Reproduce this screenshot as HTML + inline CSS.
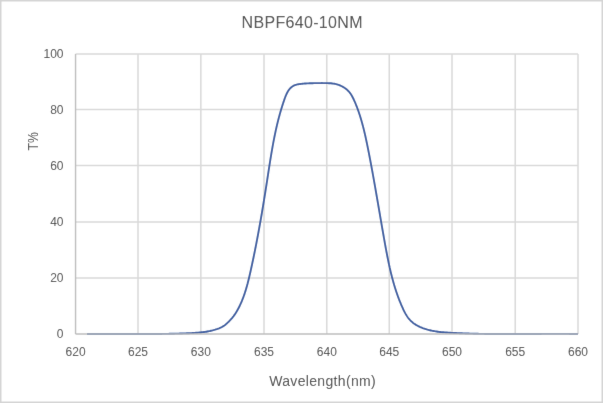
<!DOCTYPE html>
<html><head><meta charset="utf-8"><style>
html,body{margin:0;padding:0;background:#fff;}
body{width:603px;height:403px;overflow:hidden;}
svg{display:block;}
text{font-family:"Liberation Sans",sans-serif;fill:#484848;}
</style></head><body>
<svg width="603" height="403" viewBox="0 0 603 403">
<defs><filter id="bl" filterUnits="userSpaceOnUse" x="0" y="0" width="603" height="403"><feConvolveMatrix order="3" kernelMatrix="0.00524 0.06192 0.00524 0.06192 0.73137 0.06192 0.00524 0.06192 0.00524" edgeMode="duplicate" preserveAlpha="false"/></filter></defs>
<g filter="url(#bl)">
<rect x="0.75" y="0.75" width="601.5" height="401.5" fill="#fff" stroke="#d4d4d4" stroke-width="1.5"/>
<g stroke="#d9d9d9" stroke-width="1.5"><line x1="75.55" y1="54.00" x2="578.00" y2="54.00"/><line x1="75.55" y1="109.45" x2="578.00" y2="109.45"/><line x1="75.55" y1="165.50" x2="578.00" y2="165.50"/><line x1="75.55" y1="221.90" x2="578.00" y2="221.90"/><line x1="75.55" y1="278.10" x2="578.00" y2="278.10"/><line x1="138.00" y1="54.00" x2="138.00" y2="334.00"/><line x1="200.85" y1="54.00" x2="200.85" y2="334.00"/><line x1="264.00" y1="54.00" x2="264.00" y2="334.00"/><line x1="326.80" y1="54.00" x2="326.80" y2="334.00"/><line x1="389.25" y1="54.00" x2="389.25" y2="334.00"/><line x1="452.00" y1="54.00" x2="452.00" y2="334.00"/><line x1="515.20" y1="54.00" x2="515.20" y2="334.00"/><line x1="578.00" y1="54.00" x2="578.00" y2="334.00"/></g>
<path d="M86.98,334.04 L88.13,334.03 L89.28,334.02 L90.43,334.00 L91.58,333.99 L92.73,333.98 L93.88,333.97 L95.03,333.97 L96.18,333.96 L97.33,333.95 L98.48,333.95 L99.63,333.94 L100.78,333.94 L101.93,333.94 L103.08,333.93 L104.22,333.93 L105.37,333.93 L106.52,333.93 L107.67,333.93 L108.81,333.93 L109.96,333.93 L111.11,333.94 L112.25,333.94 L113.40,333.94 L114.55,333.94 L115.69,333.95 L116.84,333.95 L117.98,333.95 L119.13,333.96 L120.28,333.96 L121.42,333.97 L122.57,333.97 L123.71,333.98 L124.86,333.98 L126.00,333.98 L127.15,333.99 L128.29,333.99 L129.44,334.00 L130.58,334.00 L131.73,334.01 L132.87,334.01 L134.01,334.01 L135.16,334.02 L136.30,334.02 L137.45,334.02 L138.59,334.02 L139.74,334.03 L140.88,334.03 L142.03,334.03 L143.17,334.03 L144.31,334.03 L145.46,334.03 L146.60,334.03 L147.75,334.02 L148.89,334.02 L150.04,334.02 L151.18,334.01 L152.33,334.01 L153.47,334.00 L154.62,333.99 L155.76,333.99 L156.91,333.98 L158.05,333.97 L159.20,333.96 L160.34,333.94 L161.49,333.93 L162.63,333.92 L163.78,333.90 L164.92,333.88 L166.07,333.87 L167.22,333.85 L168.36,333.83 L169.51,333.80 L170.66,333.78 L171.80,333.76 L172.95,333.73 L174.10,333.70 L175.24,333.67 L176.39,333.64 L177.54,333.61 L178.69,333.58 L179.83,333.54 L180.98,333.50 L182.13,333.47 L183.28,333.42 L184.43,333.38 L185.58,333.34 L186.73,333.29 L187.88,333.24 L189.03,333.19 L190.18,333.14 L191.33,333.08 L192.48,333.02 L193.63,332.96 L194.78,332.89 L195.92,332.82 L197.07,332.73 L198.22,332.64 L199.36,332.54 L200.50,332.43 L201.64,332.31 L202.78,332.18 L203.92,332.03 L205.05,331.87 L206.18,331.70 L207.31,331.51 L208.43,331.31 L209.27,331.14 L210.11,330.97 L210.94,330.78 L211.78,330.59 L212.61,330.38 L213.44,330.17 L214.27,329.94 L215.09,329.70 L215.91,329.44 L216.73,329.18 L217.54,328.89 L218.34,328.59 L219.14,328.28 L219.92,327.94 L220.70,327.58 L221.47,327.20 L222.22,326.80 L222.96,326.37 L223.68,325.92 L224.38,325.44 L225.07,324.93 L225.75,324.40 L226.40,323.84 L227.05,323.27 L227.68,322.68 L228.30,322.07 L228.92,321.46 L229.52,320.83 L230.12,320.20 L230.71,319.57 L231.28,318.92 L231.85,318.27 L232.40,317.61 L232.94,316.94 L233.47,316.26 L233.98,315.57 L234.48,314.87 L234.97,314.16 L235.45,313.45 L235.91,312.73 L236.37,312.00 L236.81,311.27 L237.24,310.53 L237.66,309.78 L238.08,309.03 L238.48,308.28 L238.87,307.52 L239.26,306.75 L239.63,305.98 L240.00,305.21 L240.36,304.43 L240.72,303.65 L241.06,302.87 L241.40,302.09 L241.74,301.30 L242.06,300.51 L242.38,299.72 L242.70,298.92 L243.00,298.12 L243.30,297.32 L243.60,296.52 L243.89,295.71 L244.17,294.91 L244.45,294.10 L244.72,293.29 L244.99,292.47 L245.25,291.66 L245.51,290.84 L245.76,290.02 L246.01,289.20 L246.25,288.38 L246.49,287.55 L246.73,286.73 L246.96,285.90 L247.19,285.07 L247.41,284.24 L247.64,283.41 L247.85,282.58 L248.07,281.74 L248.28,280.91 L248.49,280.07 L248.69,279.24 L248.90,278.40 L249.10,277.56 L249.30,276.72 L249.50,275.88 L249.69,275.04 L249.88,274.20 L250.08,273.36 L250.27,272.52 L250.46,271.67 L250.64,270.83 L250.83,269.99 L251.02,269.15 L251.20,268.30 L251.39,267.46 L251.57,266.62 L251.76,265.78 L251.94,264.93 L252.12,264.09 L252.30,263.25 L252.48,262.40 L252.66,261.56 L252.84,260.71 L253.02,259.87 L253.19,259.03 L253.37,258.18 L253.55,257.34 L253.72,256.49 L253.90,255.65 L254.07,254.80 L254.24,253.96 L254.41,253.12 L254.59,252.27 L254.76,251.43 L254.93,250.58 L255.10,249.74 L255.26,248.89 L255.43,248.05 L255.60,247.20 L255.77,246.35 L255.93,245.51 L256.10,244.66 L256.26,243.82 L256.43,242.97 L256.59,242.13 L256.75,241.28 L256.92,240.43 L257.08,239.59 L257.24,238.74 L257.40,237.89 L257.56,237.05 L257.72,236.20 L257.88,235.36 L258.03,234.51 L258.19,233.66 L258.35,232.82 L258.50,231.97 L258.66,231.12 L258.82,230.27 L258.97,229.43 L259.12,228.58 L259.28,227.73 L259.43,226.89 L259.63,225.76 L259.84,224.63 L260.04,223.50 L260.24,222.37 L260.44,221.24 L260.64,220.11 L260.83,218.98 L261.03,217.85 L261.23,216.72 L261.42,215.59 L261.62,214.46 L261.81,213.33 L262.00,212.20 L262.19,211.06 L262.38,209.93 L262.57,208.80 L262.76,207.67 L262.95,206.54 L263.14,205.41 L263.33,204.28 L263.52,203.15 L263.70,202.02 L263.89,200.89 L264.07,199.76 L264.25,198.63 L264.44,197.49 L264.62,196.36 L264.80,195.23 L264.98,194.10 L265.17,192.97 L265.35,191.84 L265.53,190.71 L265.70,189.58 L265.88,188.45 L266.06,187.31 L266.24,186.18 L266.42,185.05 L266.59,183.92 L266.77,182.79 L266.94,181.66 L267.12,180.53 L267.29,179.40 L267.47,178.27 L267.64,177.14 L267.82,176.01 L267.99,174.88 L268.16,173.74 L268.34,172.61 L268.51,171.48 L268.69,170.35 L268.86,169.22 L269.04,168.09 L269.21,166.96 L269.39,165.84 L269.56,164.71 L269.74,163.58 L269.92,162.45 L270.10,161.32 L270.28,160.19 L270.46,159.06 L270.65,157.93 L270.83,156.81 L271.02,155.68 L271.20,154.55 L271.39,153.43 L271.58,152.30 L271.78,151.17 L271.97,150.05 L272.17,148.92 L272.37,147.80 L272.57,146.67 L272.77,145.55 L272.98,144.43 L273.18,143.30 L273.39,142.18 L273.55,141.34 L273.72,140.50 L273.88,139.66 L274.04,138.81 L274.21,137.97 L274.38,137.13 L274.55,136.29 L274.72,135.45 L274.89,134.61 L275.07,133.77 L275.24,132.94 L275.42,132.10 L275.60,131.26 L275.78,130.42 L275.97,129.58 L276.16,128.75 L276.35,127.91 L276.54,127.07 L276.73,126.24 L276.93,125.40 L277.12,124.56 L277.32,123.73 L277.53,122.89 L277.73,122.06 L277.94,121.23 L278.15,120.39 L278.36,119.56 L278.58,118.73 L278.79,117.89 L279.01,117.06 L279.24,116.23 L279.46,115.40 L279.69,114.57 L279.92,113.74 L280.16,112.91 L280.39,112.08 L280.63,111.25 L280.88,110.42 L281.12,109.59 L281.37,108.76 L281.62,107.94 L281.88,107.11 L282.13,106.28 L282.40,105.46 L282.66,104.63 L282.93,103.81 L283.20,102.98 L283.47,102.16 L283.75,101.34 L284.03,100.51 L284.32,99.69 L284.61,98.87 L284.90,98.05 L285.20,97.24 L285.52,96.43 L285.84,95.62 L286.18,94.83 L286.53,94.04 L286.91,93.27 L287.30,92.51 L287.71,91.76 L288.15,91.03 L288.61,90.32 L289.10,89.63 L289.62,88.97 L290.17,88.34 L290.75,87.74 L291.37,87.19 L292.02,86.68 L292.70,86.22 L293.43,85.81 L294.19,85.45 L294.97,85.14 L295.79,84.87 L296.63,84.63 L297.48,84.43 L298.34,84.26 L299.22,84.11 L300.10,83.99 L301.27,83.84 L302.43,83.71 L303.59,83.60 L304.75,83.52 L305.91,83.44 L307.07,83.38 L308.22,83.33 L309.37,83.29 L310.52,83.26 L311.66,83.23 L312.81,83.20 L313.95,83.17 L315.09,83.15 L316.24,83.13 L317.38,83.11 L318.52,83.09 L319.66,83.08 L320.79,83.08 L321.93,83.07 L323.07,83.08 L324.21,83.08 L325.34,83.10 L326.48,83.12 L327.62,83.15 L328.76,83.19 L329.89,83.24 L331.03,83.32 L332.16,83.43 L333.29,83.58 L334.41,83.76 L335.25,83.93 L336.09,84.12 L336.92,84.35 L337.75,84.60 L338.57,84.87 L339.39,85.18 L340.19,85.50 L340.98,85.86 L341.76,86.24 L342.53,86.64 L343.28,87.07 L344.02,87.53 L344.74,88.00 L345.45,88.50 L346.13,89.03 L346.79,89.58 L347.44,90.15 L348.05,90.74 L348.65,91.35 L349.22,91.99 L349.76,92.64 L350.27,93.32 L350.76,94.01 L351.22,94.73 L351.67,95.46 L352.09,96.20 L352.49,96.95 L352.89,97.72 L353.26,98.49 L353.63,99.27 L353.99,100.05 L354.34,100.84 L354.69,101.63 L355.03,102.42 L355.37,103.21 L355.70,104.01 L356.03,104.80 L356.34,105.60 L356.66,106.40 L356.97,107.21 L357.27,108.01 L357.57,108.82 L357.87,109.63 L358.16,110.44 L358.44,111.25 L358.72,112.06 L359.00,112.88 L359.27,113.69 L359.54,114.51 L359.81,115.32 L360.07,116.14 L360.33,116.96 L360.58,117.78 L360.83,118.61 L361.07,119.43 L361.32,120.25 L361.55,121.08 L361.79,121.90 L362.02,122.73 L362.25,123.56 L362.47,124.39 L362.70,125.22 L362.92,126.05 L363.13,126.88 L363.35,127.71 L363.56,128.55 L363.77,129.38 L363.97,130.21 L364.17,131.05 L364.37,131.88 L364.57,132.72 L364.77,133.56 L364.96,134.40 L365.15,135.23 L365.34,136.07 L365.53,136.91 L365.72,137.75 L365.90,138.59 L366.08,139.43 L366.26,140.27 L366.44,141.11 L366.62,141.96 L366.80,142.80 L366.97,143.64 L367.15,144.48 L367.32,145.33 L367.49,146.17 L367.66,147.01 L367.83,147.86 L368.00,148.70 L368.17,149.54 L368.33,150.39 L368.50,151.23 L368.67,152.07 L368.83,152.92 L369.00,153.76 L369.16,154.60 L369.33,155.45 L369.49,156.29 L369.65,157.14 L369.81,157.98 L369.98,158.82 L370.14,159.67 L370.30,160.51 L370.46,161.36 L370.62,162.20 L370.78,163.05 L370.94,163.89 L371.09,164.73 L371.25,165.58 L371.41,166.42 L371.57,167.27 L371.72,168.11 L371.88,168.96 L372.03,169.80 L372.24,170.93 L372.45,172.05 L372.65,173.18 L372.86,174.31 L373.06,175.43 L373.26,176.56 L373.47,177.69 L373.67,178.81 L373.87,179.94 L374.07,181.07 L374.27,182.19 L374.47,183.32 L374.67,184.45 L374.87,185.58 L375.07,186.70 L375.27,187.83 L375.46,188.96 L375.66,190.09 L375.86,191.22 L376.06,192.34 L376.25,193.47 L376.45,194.60 L376.64,195.73 L376.84,196.86 L377.03,197.98 L377.23,199.11 L377.42,200.24 L377.62,201.37 L377.81,202.50 L378.01,203.63 L378.20,204.76 L378.40,205.89 L378.59,207.01 L378.79,208.14 L378.98,209.27 L379.17,210.40 L379.37,211.53 L379.56,212.66 L379.76,213.79 L379.95,214.92 L380.14,216.05 L380.34,217.18 L380.53,218.31 L380.73,219.44 L380.92,220.57 L381.12,221.70 L381.31,222.83 L381.51,223.96 L381.70,225.09 L381.90,226.22 L382.09,227.35 L382.29,228.49 L382.49,229.62 L382.69,230.75 L382.88,231.88 L383.08,233.01 L383.28,234.14 L383.48,235.27 L383.68,236.40 L383.88,237.54 L384.08,238.67 L384.28,239.80 L384.48,240.93 L384.63,241.78 L384.78,242.63 L384.93,243.48 L385.09,244.33 L385.24,245.18 L385.39,246.02 L385.55,246.87 L385.70,247.72 L385.86,248.57 L386.02,249.42 L386.18,250.27 L386.33,251.11 L386.49,251.96 L386.66,252.81 L386.82,253.66 L386.98,254.50 L387.15,255.35 L387.31,256.20 L387.48,257.04 L387.65,257.89 L387.82,258.73 L387.99,259.58 L388.16,260.42 L388.34,261.27 L388.51,262.11 L388.69,262.95 L388.87,263.80 L389.05,264.64 L389.23,265.48 L389.42,266.32 L389.61,267.16 L389.79,268.00 L389.99,268.84 L390.18,269.68 L390.37,270.52 L390.57,271.35 L390.77,272.19 L390.97,273.02 L391.18,273.86 L391.39,274.69 L391.60,275.53 L391.81,276.36 L392.02,277.19 L392.24,278.02 L392.46,278.85 L392.68,279.68 L392.91,280.51 L393.14,281.34 L393.37,282.16 L393.60,282.99 L393.84,283.81 L394.08,284.64 L394.33,285.46 L394.57,286.28 L394.82,287.10 L395.08,287.92 L395.33,288.74 L395.59,289.55 L395.86,290.37 L396.12,291.18 L396.39,292.00 L396.67,292.81 L396.95,293.62 L397.23,294.43 L397.51,295.24 L397.80,296.04 L398.10,296.85 L398.39,297.65 L398.69,298.46 L399.00,299.26 L399.31,300.06 L399.62,300.86 L399.94,301.65 L400.26,302.45 L400.59,303.24 L400.92,304.03 L401.25,304.83 L401.59,305.62 L401.94,306.40 L402.29,307.19 L402.64,307.97 L403.00,308.76 L403.36,309.54 L403.73,310.32 L404.11,311.09 L404.49,311.86 L404.89,312.63 L405.29,313.38 L405.72,314.13 L406.15,314.87 L406.60,315.60 L407.07,316.32 L407.56,317.03 L408.07,317.72 L408.60,318.40 L409.16,319.06 L409.73,319.71 L410.32,320.34 L410.94,320.95 L411.57,321.54 L412.22,322.11 L412.88,322.65 L413.56,323.18 L414.25,323.68 L414.96,324.17 L415.68,324.64 L416.41,325.09 L417.16,325.51 L417.91,325.93 L418.67,326.32 L419.45,326.70 L420.23,327.06 L421.02,327.40 L421.82,327.73 L422.62,328.05 L423.43,328.35 L424.24,328.63 L425.06,328.90 L425.88,329.16 L426.71,329.41 L427.53,329.65 L428.36,329.87 L429.19,330.08 L430.02,330.28 L430.86,330.47 L431.70,330.65 L432.54,330.82 L433.38,330.98 L434.50,331.18 L435.63,331.36 L436.76,331.53 L437.89,331.69 L439.02,331.83 L440.16,331.97 L441.30,332.09 L442.44,332.20 L443.58,332.30 L444.73,332.40 L445.87,332.48 L447.02,332.56 L448.16,332.64 L449.31,332.71 L450.46,332.77 L451.61,332.84 L452.75,332.90 L453.90,332.96 L455.05,333.01 L456.20,333.07 L457.34,333.12 L458.49,333.17 L459.64,333.22 L460.78,333.27 L461.93,333.32 L463.08,333.36 L464.22,333.41 L465.37,333.45 L466.52,333.49 L467.66,333.53 L468.81,333.56 L469.96,333.60 L471.10,333.63 L472.25,333.66 L473.40,333.69 L474.54,333.72 L475.69,333.75 L476.84,333.78 L477.98,333.80 L479.13,333.83 L480.28,333.85 L481.42,333.87 L482.57,333.89 L483.71,333.91 L484.86,333.93 L486.01,333.94 L487.15,333.96 L488.30,333.97 L489.44,333.98 L490.59,334.00 L491.74,334.01 L492.88,334.02 L494.03,334.03 L495.17,334.03 L496.32,334.04 L497.47,334.05 L498.61,334.05 L499.76,334.06 L500.90,334.06 L502.05,334.07 L503.20,334.07 L504.34,334.07 L505.49,334.07 L506.63,334.07 L507.78,334.07 L508.92,334.07 L510.07,334.07 L511.22,334.07 L512.36,334.06 L513.51,334.06 L514.65,334.06 L515.80,334.06 L516.94,334.05 L518.09,334.05 L519.24,334.04 L520.38,334.04 L521.53,334.03 L522.67,334.03 L523.82,334.02 L524.97,334.01 L526.11,334.01 L527.26,334.00 L528.40,333.99 L529.55,333.99 L530.70,333.98 L531.84,333.98 L532.99,333.97 L534.13,333.96 L535.28,333.96 L536.43,333.95 L537.57,333.94 L538.72,333.94 L539.86,333.93 L541.01,333.93 L542.16,333.92 L543.30,333.91 L544.45,333.91 L545.60,333.91 L546.74,333.90 L547.89,333.90 L549.04,333.89 L550.18,333.89 L551.33,333.89 L552.48,333.89 L553.62,333.88 L554.77,333.88 L555.92,333.88 L557.06,333.88 L558.21,333.88 L559.36,333.89 L560.50,333.89 L561.65,333.89 L562.80,333.89 L563.95,333.90 L565.09,333.90 L566.24,333.91 L567.39,333.92 L568.54,333.92 L569.68,333.93 L570.83,333.94 L571.98,333.95 L573.13,333.96 L574.27,333.98 L575.42,333.99 L576.57,334.01 L577.72,334.02 L578.01,334.03" fill="none" stroke="#33589f" stroke-width="1.9" stroke-linejoin="round" stroke-linecap="butt"/>
<g stroke="#bdbdbd" stroke-width="1.4"><line x1="75.55" y1="54.0" x2="75.55" y2="334.0"/><line x1="75.55" y1="334.0" x2="578.0" y2="334.0"/></g>
<text x="302.2" y="28.1" text-anchor="middle" font-size="16" letter-spacing="0.33">NBPF640-10NM</text>
<g font-size="12"><text x="63.5" y="58.30" text-anchor="end">100</text><text x="63.5" y="113.75" text-anchor="end">80</text><text x="63.5" y="169.80" text-anchor="end">60</text><text x="63.5" y="226.20" text-anchor="end">40</text><text x="63.5" y="282.40" text-anchor="end">20</text><text x="63.5" y="338.30" text-anchor="end">0</text><text x="75.55" y="356" text-anchor="middle">620</text><text x="138.00" y="356" text-anchor="middle">625</text><text x="200.85" y="356" text-anchor="middle">630</text><text x="264.00" y="356" text-anchor="middle">635</text><text x="326.80" y="356" text-anchor="middle">640</text><text x="389.25" y="356" text-anchor="middle">645</text><text x="452.00" y="356" text-anchor="middle">650</text><text x="515.20" y="356" text-anchor="middle">655</text><text x="578.00" y="356" text-anchor="middle">660</text></g>
<text x="322.6" y="386.3" text-anchor="middle" font-size="14" letter-spacing="0.33">Wavelength(nm)</text>
<text transform="translate(37.8,141.4) rotate(-90) scale(0.82,1)" text-anchor="middle" font-size="15">T%</text>
</g>
</svg>
</body></html>
